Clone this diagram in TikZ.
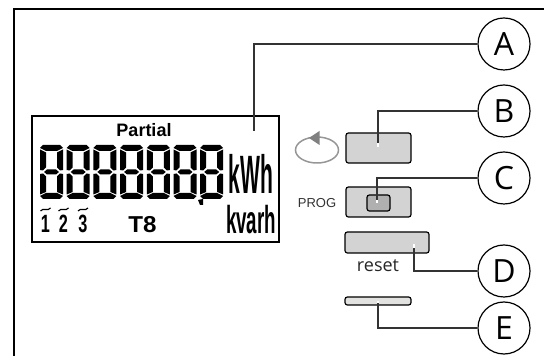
\documentclass[tikz,border=0pt]{standalone}
\usepackage{fontspec}
\setmainfont{Liberation Sans}
\newfontfamily\opensans{Open Sans}
\usetikzlibrary{positioning}
\definecolor{btngray}{RGB}{212,211,211}
\definecolor{btndark}{RGB}{176,176,176}
\definecolor{btnpale}{RGB}{226,226,224}
\definecolor{ldrgray}{RGB}{51,51,51}
\definecolor{rotgray}{RGB}{150,150,150}
\newcommand{\px}[1]{\fontsize{\fpeval{#1/2}}{\fpeval{#1/2}}\selectfont}
\newcommand{\lcddig}[1]{%
  \begin{scope}[shift={(40+26.7*#1,145)}]
    \fill (3,0) -- (20,0) -- (23,3) -- (17,6) -- (6,6) -- (0,3) -- cycle;
    \fill (0,4.5) -- (6,7.5) -- (6,22.5) -- (3,25.5) -- (0,25) -- cycle;
    \fill (23,4.5) -- (17,7.5) -- (17,22.5) -- (20,25.5) -- (23,25) -- cycle;
    \fill (4,27) -- (7,24.5) -- (16,24.5) -- (19,27) -- (16,29.5) -- (7,29.5) -- cycle;
    \fill (0,29) -- (3,28.5) -- (6,31.5) -- (6,47) -- (0,49.5) -- cycle;
    \fill (23,29) -- (20,28.5) -- (17,31.5) -- (17,47) -- (23,49.5) -- cycle;
    \fill (0,51) -- (6,48) -- (17,48) -- (23,51) -- (20,54) -- (3,54) -- cycle;
  \end{scope}}
\tikzset{
  callout/.style={circle, draw=black, line width=0.6pt, fill=white, minimum size=26pt, inner sep=0pt, font=\opensans\fontsize{16}{16}\selectfont},
  ldr/.style={ldrgray, line width=0.75pt},
  ldrtip/.style={white, line width=0.75pt},
  btn/.style={draw=black, line width=0.6pt, fill=btngray, rounded corners=1.2pt, inner sep=0pt},
  lcdtxt/.style={font=\bfseries\px{#1}, inner sep=0pt, transform shape},
}
\begin{document}
\begin{tikzpicture}[x=0.5pt,y=-0.5pt]
\useasboundingbox (0,0) rectangle (544,356);
\draw[line width=1.2pt] (14,356) -- (14,9) -- (544,9);

% display
\node[draw=black, line width=1pt, minimum width=123.5pt, minimum height=63pt, inner sep=0pt] (dsp) at (155.5,179) {};
\node[font=\bfseries\px{18}, inner sep=0pt] (partial) at (144,130) {Partial};
\foreach \i in {0,...,6} {\lcddig{\i}}
\fill (198,200) -- (203,199) -- (203,205) -- (200,205) -- cycle;
\node[lcdtxt=54, xscale=0.39] (kwh) at (251,174) {kWh};
\node[lcdtxt=39, xscale=0.48] (kvarh) at (251,220) {kvarh};
\foreach \n/\xp in {1/45.5,2/63.5,3/83} {
  \node[lcdtxt=25, xscale=0.65] (num\n) at (\xp,224) {\n};
  \draw[line width=0.6pt] (\xp-5,211) .. controls (\xp-2,207) and (\xp+2,212) .. (\xp+5,208);
}
\node[lcdtxt=23, xscale=1.05] (tar) at (142.5,225) {T8};

% rotate symbol
\draw[rotgray, line width=0.75pt] (317,150) ellipse [x radius=21.5, y radius=13];
\fill[gray] (319.5,131) -- (319.5,145) -- (309,138) -- cycle;
\node[font=\px{13}, text=ldrgray, inner sep=0pt] (prog) at (317,203) {PROG};

% buttons
\node[btn, minimum width=32.5pt, minimum height=15pt] (bB) at (378.5,148) {};
\node[btn, minimum width=32.5pt, minimum height=15pt] (bC) at (378.5,202) {};
\node[btn, fill=btndark, minimum width=11.5pt, minimum height=8pt] (bCin) at (378.5,203) {};
\node[btn, minimum width=42pt, minimum height=10.5pt] (bD) at (387,242.5) {};
\node[btn, fill=btnpale, minimum width=33pt, minimum height=4pt] (bE) at (378,301) {};
\node[font=\opensans\px{18}, text=black!85, inner sep=0pt, anchor=base] (rst) at (378,272) {reset};

% callouts
\node[callout] (cA) at (504,44) {A};
\node[callout] (cB) at (504,111) {B};
\node[callout] (cC) at (504,178) {C};
\node[callout] (cD) at (504,271) {D};
\node[callout] (cE) at (504,328) {E};

\coordinate (eA) at (254,131);
\coordinate (eB) at (378,147);
\coordinate (eC) at (377,203);
\coordinate (eD) at (414,244);
\coordinate (eE) at (378,301);
\draw[ldr] (cA) -| (eA);
\draw[ldr] (cB) -| (eB);
\draw[ldr] (cC) -| (eC);
\draw[ldr] (cD) -| (eD);
\draw[ldr] (cE) -| (eE);
\draw[ldrtip] (eB) -- ++(0,-4);
\draw[ldrtip] (eC) -- ++(0,-3);
\draw[ldrtip] (eD) -- ++(0,4);
\draw[ldrtip] (eE) -- ++(0,2);
\end{tikzpicture}
\end{document}
